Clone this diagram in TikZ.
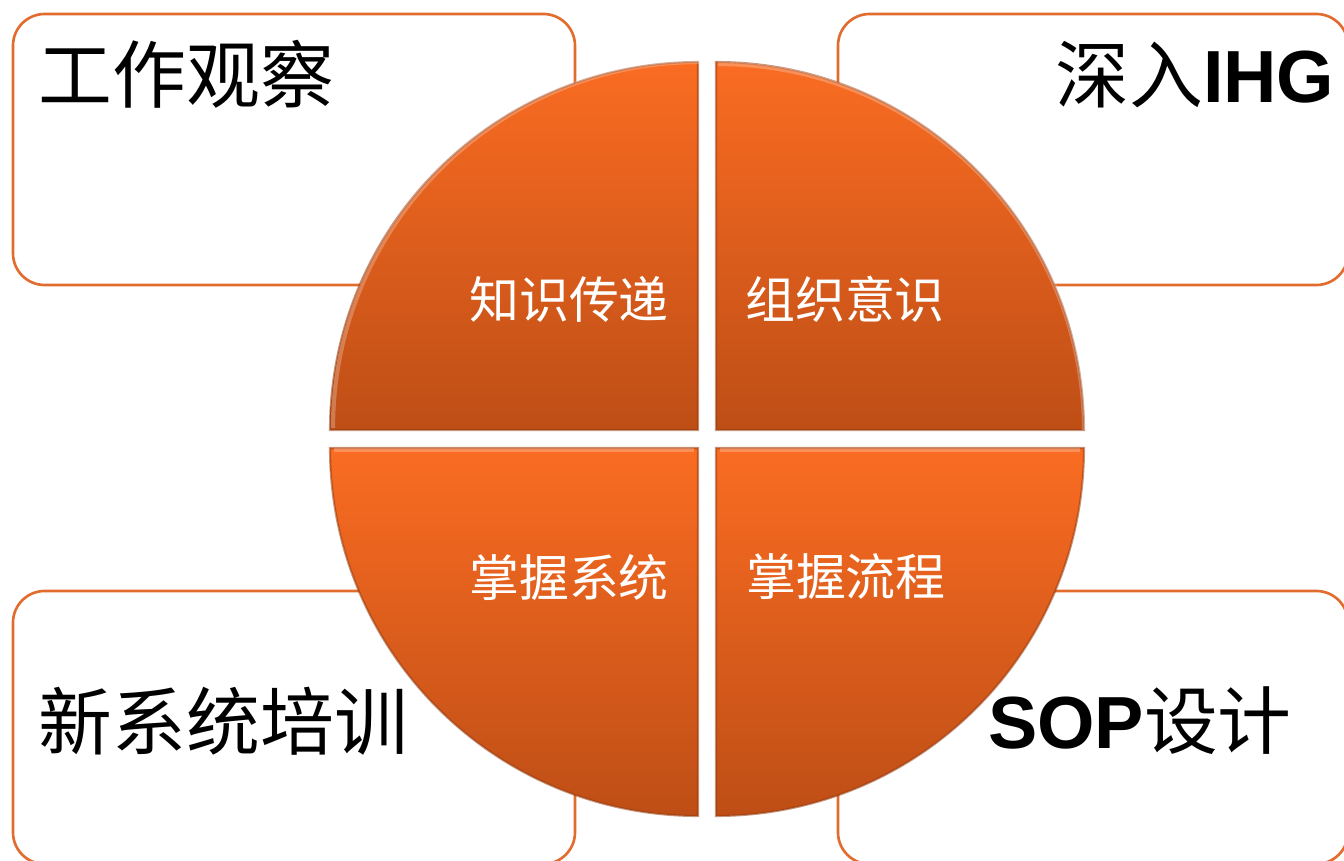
\documentclass[tikz,border=0pt]{standalone}
\usepackage{fontspec}
\setmainfont{Liberation Sans}
\newfontfamily\cjk{Noto Sans CJK SC}
\definecolor{boxline}{RGB}{226,108,46}
\definecolor{qtop}{RGB}{250,108,34}
\definecolor{qbot}{RGB}{190,78,22}
\definecolor{qedge}{RGB}{150,60,16}
\tikzset{
  infobox/.style={draw=boxline, line width=0.75pt, rounded corners=9pt, fill=white},
  quad/.style={top color=qtop, bottom color=qbot, draw=qedge, draw opacity=0.55, line width=0.6pt},
  quadhi/.style={draw=white, draw opacity=0.25, line width=1.2pt},
  qlabel/.style={text=white, font=\cjk\fontsize{14.2}{16}\selectfont, inner sep=0pt},
  blabel/.style={text=black, font=\cjk\fontsize{21}{24}\selectfont, inner sep=0pt}
}
\newcommand{\lat}[1]{{\normalfont\bfseries\fontsize{21}{24}\selectfont #1}}
\begin{document}
\begin{tikzpicture}[x=0.01cm,y=-0.01cm]
\useasboundingbox (0,0) rectangle (1344,861);
% info boxes
\draw[infobox] (13,14) rectangle (575,285);
\draw[infobox] (838,14) rectangle (1348,285);
\draw[infobox] (13,591) rectangle (575,864);
\draw[infobox] (838,591) rectangle (1348,864);
% quadrants
\path[quad] (698,430) -- (330,430) arc[start angle=180,end angle=270,radius=368] -- cycle;
\path[quad] (716,430) -- (716,62) arc[start angle=270,end angle=360,radius=368] -- cycle;
\path[quad] (698,448) -- (698,816) arc[start angle=90,end angle=180,radius=368] -- cycle;
\path[quad] (716,448) -- (1084,448) arc[start angle=0,end angle=90,radius=368] -- cycle;
% highlights on top edges
\draw[quadhi] (334,450) -- (694,450);
\draw[quadhi] (720,450) -- (1080,450);
\draw[quadhi] (333,428) arc[start angle=180,end angle=270,radius=366];
\draw[quadhi] (718,64) arc[start angle=270,end angle=360,radius=366];
% quadrant labels
\node[qlabel] (k1) at (569,299) {知识传递};
\node[qlabel] (k2) at (845,299) {组织意识};
\node[qlabel] (k3) at (569,577) {掌握系统};
\node[qlabel] (k4) at (846,577) {掌握流程};
% box labels
\node[blabel, anchor=west] (b1) at (38,74) {工作观察};
\node[blabel, anchor=east] (b2) at (1335,75) {深入\lat{IHG}};
\node[blabel, anchor=west] (b3) at (38,721) {新系统培训};
\node[blabel] (b4) at (1140,721) {\lat{SOP}设计};
\end{tikzpicture}
\end{document}
